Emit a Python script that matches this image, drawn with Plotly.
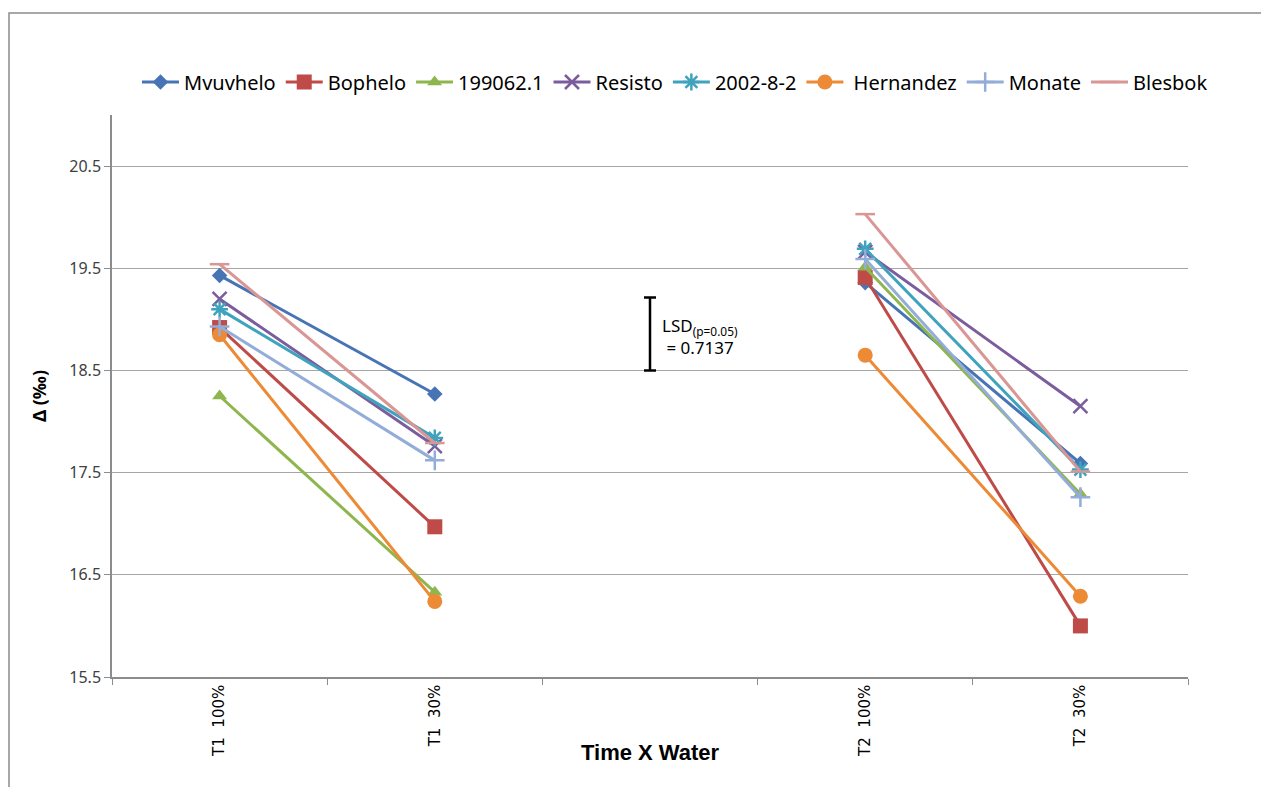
import plotly.graph_objects as go

categories = ["T1\u00a0\u00a0100%", "T1\u00a0\u00a030%", " ", "T2\u00a0\u00a0100%", "T2\u00a0\u00a030%"]
cultivars = ["Mvuvhelo", "Bophelo", "199062.1", "Resisto", "2002-8-2", " Hernandez", "Monate", "Blesbok"]

mvuvhelo = [19.43, 18.27, None, 19.36, 17.59]
bophelo = [18.92, 16.97, None, 19.41, 16.00]
c199062 = [18.25, 16.33, None, 19.51, 17.29]
resisto = [19.20, 17.76, None, 19.66, 18.15]
c2002 = [19.10, 17.84, None, 19.69, 17.53]
hernandez = [18.85, 16.24, None, 18.65, 16.29]
monate = [18.93, 17.62, None, 19.59, 17.26]
blesbok = [19.54, 17.79, None, 20.03, 17.51]

series = [mvuvhelo, bophelo, c199062, resisto, c2002, hernandez, monate, blesbok]
colors = ["#4674B4", "#BE4B48", "#8FB64E", "#7B5D9E", "#3FA3BD", "#EC8A35", "#93ACD8", "#D99694"]
symbols = ["diamond", "square", "triangle-up", "x-thin-open", "asterisk-open", "circle", "cross-thin-open", "line-ew-open"]
sizes = [12, 15, 13, 14, 14, 15, 14, 14]

lsd_value = 0.7137
lsd_center = 18.857

fig = go.Figure()
for name, ys, c, s, sz in zip(cultivars, series, colors, symbols, sizes):
    fig.add_trace(go.Scatter(
        x=categories, y=ys, name=name, mode="lines+markers",
        connectgaps=False,
        line=dict(color=c, width=3),
        marker=dict(symbol=s, size=sz, color=c, line=dict(color=c, width=2.5 if "open" in s else 0)),
    ))

fig.add_trace(go.Scatter(
    x=[" "], y=[lsd_center], mode="markers", showlegend=False,
    marker=dict(size=1, color="rgba(0,0,0,0)"),
    error_y=dict(type="data", array=[lsd_value / 2], symmetric=True, color="black", thickness=2.5, width=6),
    hoverinfo="skip",
))

fig.add_annotation(
    xref="paper", yref="paper", x=(660 - 112) / 1076, y=(677 - 336) / 562,
    xanchor="left", yanchor="middle", align="left", showarrow=False,
    text="LSD<sub>(p=0.05)</sub><br> = 0.7137",
    font=dict(family="Noto Sans", size=17, color="#000000"),
)

# x-axis title
fig.add_annotation(
    xref="paper", yref="paper", x=0.5, y=(677 - 752) / 562,
    xanchor="center", yanchor="middle", showarrow=False,
    text="<b>Time X Water</b>",
    font=dict(family="Liberation Sans", size=22, color="#000000"),
)

# outer chart border
fig.add_shape(type="rect", xref="paper", yref="paper",
              x0=(9 - 112) / 1076, x1=(1290 - 112) / 1076,
              y0=(677 - 800) / 562, y1=(677 - 13) / 562,
              line=dict(color="#8c8c8c", width=1.5), fillcolor="rgba(0,0,0,0)", layer="below")

fig.update_layout(
    width=1261, height=779,
    margin=dict(l=104, r=81, t=107, b=110),
    paper_bgcolor="white", plot_bgcolor="white",
    font=dict(family="Noto Sans", color="#404040"),
    showlegend=True,
    legend=dict(orientation="h", xref="container", yref="container",
                x=(675 - 8) / 1261, xanchor="center", y=1 - (82 - 8) / 779, yanchor="middle",
                font=dict(family="Noto Sans", size=20, color="#000000"),
                itemwidth=37, tracegroupgap=0, bgcolor="rgba(0,0,0,0)"),
    xaxis=dict(
        type="category", categoryorder="array", categoryarray=categories,
        tickson="boundaries", ticks="outside", ticklen=6, tickcolor="#8c8c8c",
        showline=True, linecolor="#8c8c8c", linewidth=1.5, showgrid=False,
        tickangle=-90, tickfont=dict(family="DejaVu Sans", size=15, color="#000000"),
        range=[-0.5, 4.5],
    ),
    yaxis=dict(
        range=[15.5, 21.0], tick0=15.5, dtick=1,
        showgrid=True, gridcolor="#a6a6a6", gridwidth=1.2,
        showline=True, linecolor="#8c8c8c", linewidth=1.5,
        ticks="outside", ticklen=6, tickcolor="#8c8c8c",
        tickfont=dict(family="Noto Sans", size=16, color="#404040"),
        zeroline=False,
        title=dict(text="<b>Δ (‰)</b>", font=dict(family="Noto Sans", size=18, color="#000000"), standoff=18),
    ),
)

fig.write_html("out.html")
